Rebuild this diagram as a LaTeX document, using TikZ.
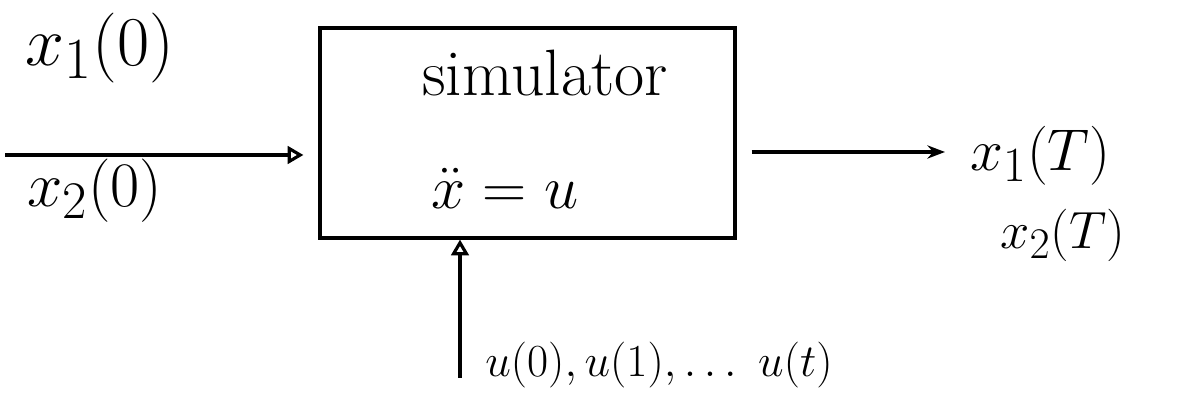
\documentclass[tikz,border=0pt]{standalone}
\usepackage{tikz}
\usetikzlibrary{arrows.meta,positioning}

\begin{document}
\begin{tikzpicture}[scale=1.0,
		lbl/.style={inner sep=0pt, font=\Huge, transform shape},
		wire/.style={line width=1.8pt}]
		\useasboundingbox (0, 0) rectangle (23.54, 8.06);

		% the simulator block
		\node [draw, line width=1.8pt, minimum width=8.3cm, minimum height=4.2cm] (sim) at (10.55, 5.4) {};
		\node [lbl, scale=1.5] (name) at (10.9, 6.6) {simulator};
		\node [lbl, scale=1.4] (law) at (10.1, 4.3) {$\ddot{x} = u$};

		% initial state in
		\coordinate (in) at (0.1, 4.96);
		\draw [wire, -{Triangle[open, length=9pt, width=10pt]}] (in) -- ([xshift=-0.3cm] in -| sim.west);
		\node [lbl, scale=1.6] (x10) at (2.0, 7.1) {$x_1(0)$};
		\node [lbl, scale=1.45] (x20) at (1.9, 4.25) {$x_2(0)$};

		% final state out
		\coordinate (out) at (18.9, 5.02);
		\draw [wire, -{Stealth[length=10pt]}] (sim.east |- out) ++(0.3, 0) -- (out);
		\node [lbl, scale=1.35, anchor=west] (x1T) at (19.4, 4.95) {$x_1(T)$};
		\node [lbl, scale=1.2, anchor=west] (x2T) at (20.0, 3.35) {$x_2(T)$};

		% control sequence
		\coordinate (ctl) at (9.2, 0.5);
		\draw [wire, -{Triangle[open, length=9pt, width=10pt]}] (ctl) -- (ctl |- sim.south);
		\node [lbl, scale=1.05, anchor=west] (useq) at (9.7, 0.75) {$u(0), u(1), \ldots\ u(t)$};
	\end{tikzpicture}
\end{document}
